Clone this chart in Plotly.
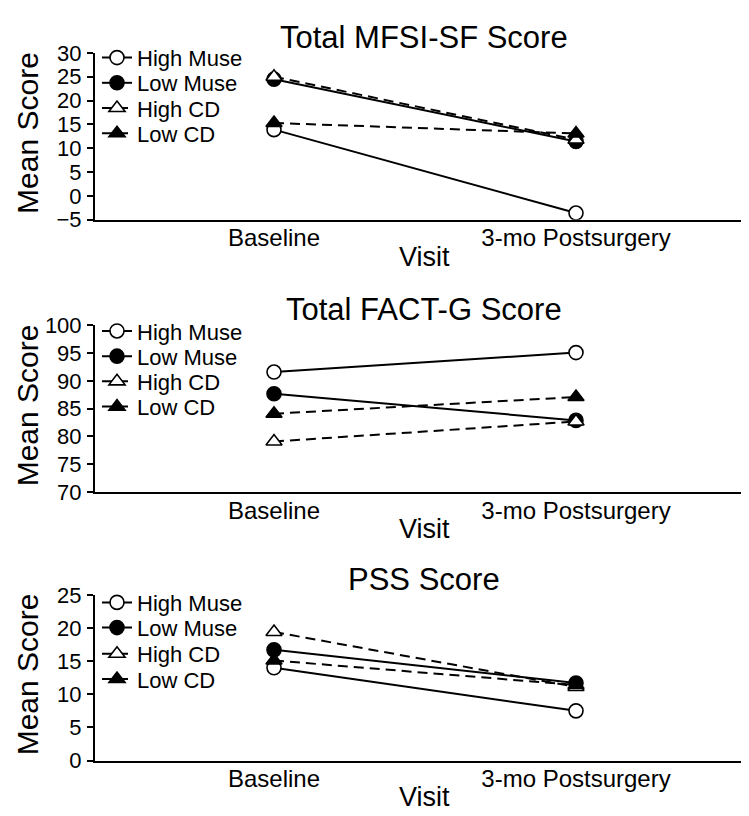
import plotly.graph_objects as go

# ---------------- data ----------------
visits = ["Baseline", "3-mo Postsurgery"]
series_names = ["High Muse", "Low Muse", "High CD", "Low CD"]

panel_titles = ["Total MFSI-SF Score", "Total FACT-G Score", "PSS Score"]

mfsi_high_muse = [13.9, -3.6]
mfsi_low_muse = [24.5, 11.4]
mfsi_high_cd = [25.0, 11.8]
mfsi_low_cd = [15.3, 13.1]

factg_high_muse = [91.6, 95.1]
factg_low_muse = [87.7, 82.9]
factg_high_cd = [79.1, 82.7]
factg_low_cd = [84.1, 87.1]

pss_high_muse = [14.0, 7.5]
pss_low_muse = [16.7, 11.7]
pss_high_cd = [19.4, 11.1]
pss_low_cd = [15.1, 11.4]

y_ranges = [(-5, 30), (70, 100), (0, 25)]
y_dtick = 5

panels = [
    [mfsi_high_muse, mfsi_low_muse, mfsi_high_cd, mfsi_low_cd],
    [factg_high_muse, factg_low_muse, factg_high_cd, factg_low_cd],
    [pss_high_muse, pss_low_muse, pss_high_cd, pss_low_cd],
]

# ---------------- styling ----------------
W, H = 749, 816
FONT = "Liberation Sans, Arial, Helvetica, sans-serif"

styles = [
    dict(symbol="circle", fill="white", dash="solid"),
    dict(symbol="circle", fill="black", dash="solid"),
    dict(symbol="triangle-up", fill="white", dash="10px,6px"),
    dict(symbol="triangle-up", fill="black", dash="10px,6px"),
]

# pixel geometry (top, bottom) of each plot area
plot_px = [(34, 206), (315, 487), (593, 764)]
x_left, x_right = 87, 743
cat0_px, cat1_px = 266, 568
unit = cat1_px - cat0_px
x_range = [(x_left - cat0_px) / unit, (x_right - cat0_px) / unit]

# legend row centres (px) per panel
legend_rows_px = [
    [39, 65, 91, 117],
    [321, 347, 373, 399],
    [601, 627, 654, 680],
]


def py(v):
    return 1 - v / H


def px(v):
    return v / W


fig = go.Figure()

layout = dict(
    width=W, height=H,
    margin=dict(l=0, r=0, t=0, b=0),
    paper_bgcolor="white", plot_bgcolor="white",
    font=dict(family=FONT, color="black"),
    annotations=[],
)

k = 0
for p, data in enumerate(panels):
    xa = "x" if p == 0 else f"x{p+1}"
    ya = "y" if p == 0 else f"y{p+1}"
    for s, vals in enumerate(data):
        st = styles[s]
        k += 1
        lid = "legend" if k == 1 else f"legend{k}"
        fig.add_trace(go.Scatter(
            x=visits, y=vals, name=series_names[s],
            xaxis=xa, yaxis=ya,
            mode="lines+markers",
            line=dict(color="black", width=2, dash=st["dash"]),
            marker=dict(symbol=st["symbol"], size=14, color=st["fill"],
                        line=dict(color="black", width=1.6)),
            legend=lid,
            showlegend=True,
        ))
        layout[lid] = dict(
            x=px(89), y=py(legend_rows_px[p][s]),
            xanchor="left", yanchor="middle",
            bgcolor="rgba(0,0,0,0)", borderwidth=0,
            font=dict(size=22, family=FONT, color="black"),
        )

for p in range(3):
    top, bot = plot_px[p]
    xk = "xaxis" if p == 0 else f"xaxis{p+1}"
    yk = "yaxis" if p == 0 else f"yaxis{p+1}"
    ya = "y" if p == 0 else f"y{p+1}"
    xa = "x" if p == 0 else f"x{p+1}"
    layout[xk] = dict(
        domain=[px(x_left), px(x_right)], anchor=ya,
        type="category", range=x_range,
        showline=True, linecolor="black", linewidth=2,
        ticks="", ticklen=0, showgrid=False, zeroline=False,
        tickfont=dict(size=24, family=FONT, color="black"),
        ticklabelstandoff=-4,
        fixedrange=True,
    )
    lo, hi = y_ranges[p]
    layout[yk] = dict(
        domain=[py(bot), py(top)], anchor=xa,
        range=[lo, hi], dtick=y_dtick, tick0=lo,
        showline=True, linecolor="black", linewidth=2,
        ticks="outside", ticklen=6, tickwidth=2, tickcolor="black",
        showgrid=False, zeroline=False,
        tickfont=dict(size=22, family=FONT, color="black"),
        ticklabelstandoff=1,
    )
    # panel title
    layout["annotations"].append(dict(
        text=panel_titles[p], x=px(416), y=py(top - 16),
        xref="paper", yref="paper", showarrow=False,
        xanchor="center", yanchor="middle",
        font=dict(size=31, family=FONT, color="black"),
    ))
    # x axis title
    layout["annotations"].append(dict(
        text="Visit", x=px(416), y=py(bot + 38),
        xref="paper", yref="paper", showarrow=False,
        xanchor="center", yanchor="middle",
        font=dict(size=27, family=FONT, color="black"),
    ))
    # y axis title
    layout["annotations"].append(dict(
        text="Mean Score", x=px(1), y=py((top + bot) / 2 - 3),
        xref="paper", yref="paper", showarrow=False, textangle=-90,
        xanchor="left", yanchor="middle",
        font=dict(size=30, family=FONT, color="black"),
    ))

fig.update_layout(**layout)
fig.write_html("out.html")
